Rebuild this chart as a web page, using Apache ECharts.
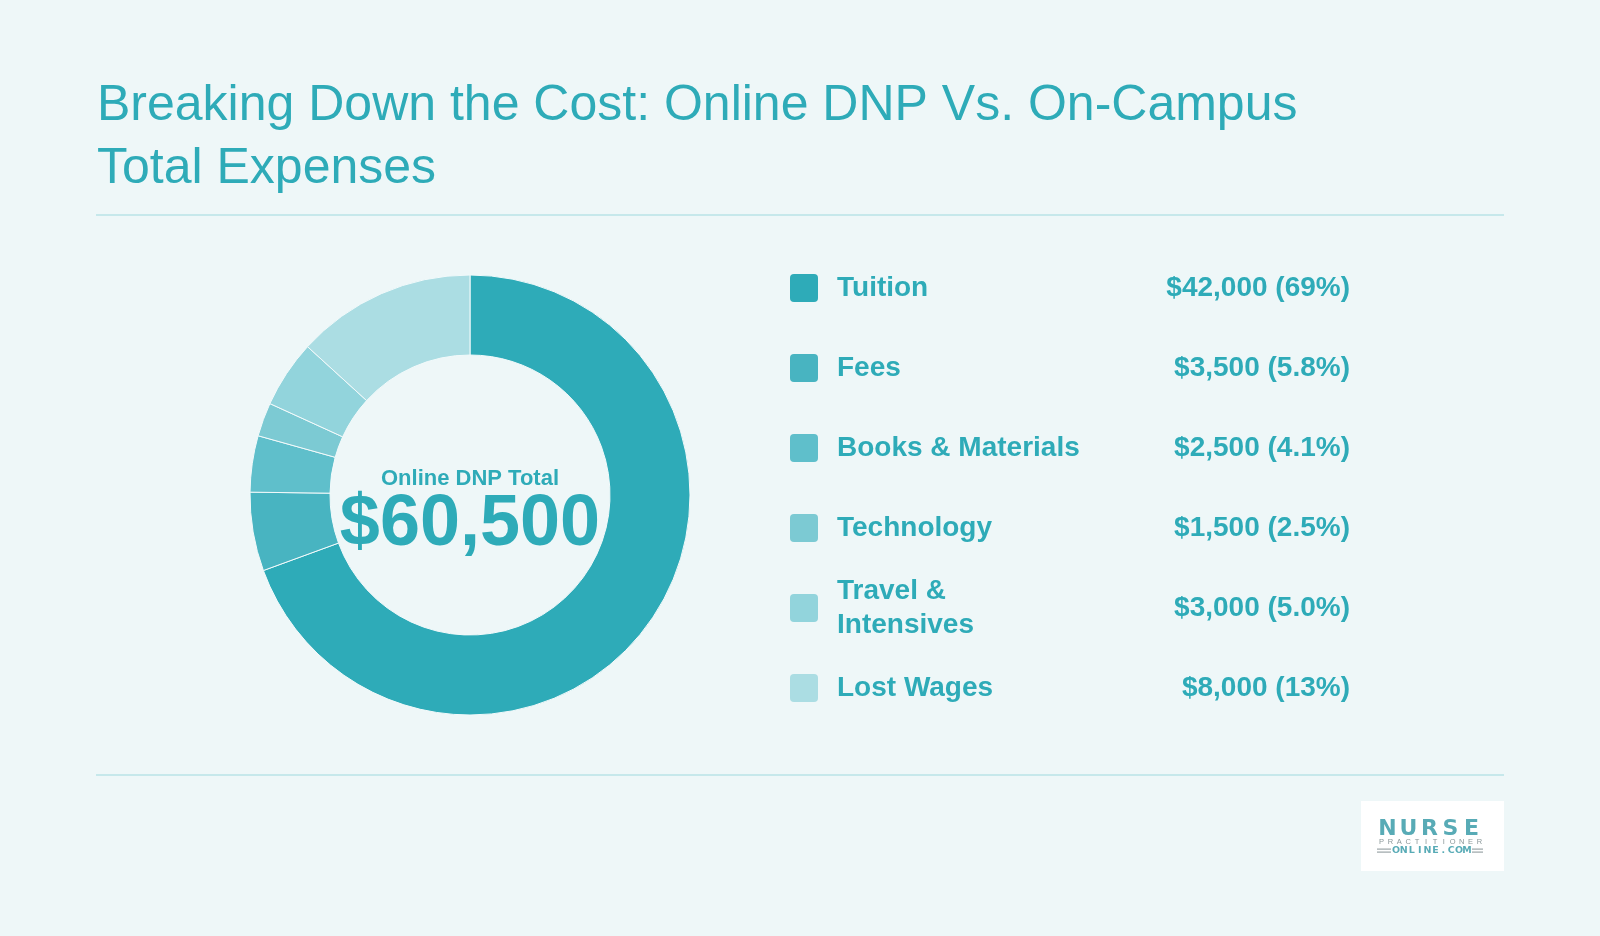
<!DOCTYPE html>
<html>
<head>
<meta charset="utf-8">
<script src="https://cdn.jsdelivr.net/npm/echarts@6/dist/echarts.min.js"></script>
<style>
html,body{margin:0;padding:0;background:#eef7f8;}
#chart{width:1600px;height:936px;}
</style>
</head>
<body>
<div id="chart"></div>
<script>
const titleText = 'Breaking Down the Cost: Online DNP Vs. On-Campus\nTotal Expenses';
const categories = ['Tuition', 'Fees', 'Books & Materials', 'Technology', 'Travel &\nIntensives', 'Lost Wages'];
const costValues = [42000, 3500, 2500, 1500, 3000, 8000];
const sliceColors = ['#2eabb8', '#48b4c1', '#5fbfcb', '#7ccad3', '#92d4dc', '#abdde3'];
const centerCaption = 'Online DNP Total';

const FONT = '"Liberation Sans", Arial, Helvetica, sans-serif';
const TEAL = '#2eabb8';
const total = costValues.reduce((a, b) => a + b, 0);
const fmtMoney = v => '$' + v.toLocaleString('en-US');
const fmtPct = v => (v / total * 100).toPrecision(2) + '%';

const chart = echarts.init(document.getElementById('chart'), null, {renderer: 'canvas'});

const graphics = [];
// rules
graphics.push({type: 'rect', shape: {x: 96, y: 214, width: 1408, height: 2}, style: {fill: '#c6e8eb'}, silent: true});
graphics.push({type: 'rect', shape: {x: 96, y: 774, width: 1408, height: 2}, style: {fill: '#c6e8eb'}, silent: true});

// legend rows
const rowTop = 288, rowGap = 80;
categories.forEach((name, i) => {
  const cy = rowTop + i * rowGap;
  graphics.push({type: 'rect', shape: {x: 790, y: cy - 14, width: 28, height: 28, r: 4}, style: {fill: sliceColors[i]}, silent: true});
  graphics.push({type: 'text', x: 837, y: cy, style: {text: name, font: 'bold 28px ' + FONT, fill: TEAL, verticalAlign: 'middle', align: 'left', lineHeight: 34}, silent: true});
  graphics.push({type: 'text', x: 1350, y: cy, style: {text: fmtMoney(costValues[i]) + ' (' + fmtPct(costValues[i]) + ')', font: 'bold 28px ' + FONT, fill: TEAL, verticalAlign: 'middle', align: 'right'}, silent: true});
});

// center texts
graphics.push({type: 'text', x: 470, y: 479, style: {text: centerCaption, font: 'bold 22px ' + FONT, fill: TEAL, align: 'center', verticalAlign: 'middle'}, silent: true});
graphics.push({type: 'text', x: 470, y: 525, style: {text: fmtMoney(total), font: 'bold 72px ' + FONT, fill: TEAL, align: 'center', verticalAlign: 'middle'}, silent: true});

// logo
graphics.push({type: 'rect', shape: {x: 1361, y: 801, width: 143, height: 70}, style: {fill: '#ffffff'}, silent: true});
const spread = (str, x0, x1, y, font, fill) => {
  const n = str.length;
  const step = (x1 - x0) / n;
  for (let k = 0; k < n; k++) {
    graphics.push({type: 'text', x: x0 + step * (k + 0.5), y: y, style: {text: str[k], font: font, fill: fill, align: 'center', verticalAlign: 'middle'}, silent: true});
  }
};
spread('NURSE', 1377, 1482, 829, 'bold 22px "DejaVu Sans", ' + FONT, '#58abb6');
spread('PRACTITIONER', 1377, 1484, 842, '7.5px ' + FONT, '#8a9799');
spread('ONLINE.COM', 1392, 1471, 850.5, 'bold 9.5px "DejaVu Sans", ' + FONT, '#58abb6');
[[1377, 1391], [1472, 1483]].forEach(([a, b]) => {
  graphics.push({type: 'rect', shape: {x: a, y: 848.5, width: b - a, height: 1.2}, style: {fill: '#9aa4a6'}, silent: true});
  graphics.push({type: 'rect', shape: {x: a, y: 851.5, width: b - a, height: 1.2}, style: {fill: '#9aa4a6'}, silent: true});
});

chart.setOption({
  backgroundColor: '#eef7f8',
  animation: false,
  title: {
    text: titleText,
    left: 97,
    top: 75,
    padding: 0,
    textStyle: {fontFamily: FONT, fontWeight: 'normal', fontSize: 50, color: TEAL, lineHeight: 63}
  },
  color: sliceColors,
  series: [{
    type: 'pie',
    center: [470, 495],
    radius: [140, 220],
    startAngle: 90,
    clockwise: true,
    avoidLabelOverlap: false,
    label: {show: false},
    labelLine: {show: false},
    itemStyle: {borderColor: '#f2fafb', borderWidth: 1},
    emphasis: {disabled: true},
    data: categories.map((c, i) => ({name: c, value: costValues[i]}))
  }],
  graphic: graphics
});
</script>
</body>
</html>
